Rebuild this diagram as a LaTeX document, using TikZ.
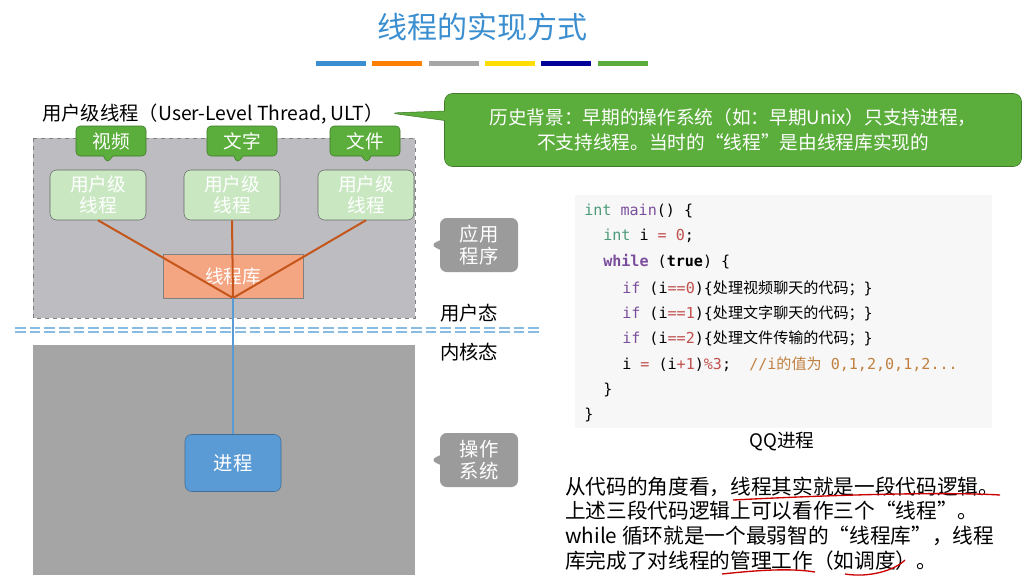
\documentclass[tikz,border=0pt]{standalone}
\usepackage{fontspec}
\setmainfont{Noto Sans CJK SC}
\newfontfamily\cjk{Noto Sans CJK SC}
\setmonofont{DejaVu Sans Mono}
\usepackage{xcolor}
\usetikzlibrary{shapes.callouts}
\definecolor{titleblue}{HTML}{3B8FD0}
\definecolor{bggray}{HTML}{BDBCC0}
\definecolor{osgray}{HTML}{9B9B9B}
\definecolor{callgreen}{HTML}{5BAE3C}
\definecolor{ultgreen}{HTML}{C9E8C2}
\definecolor{liborange}{HTML}{F4A582}
\definecolor{linkorange}{HTML}{C5561B}
\definecolor{procblue}{HTML}{5B9BD5}
\definecolor{kwpurple}{HTML}{7A4E9C}
\definecolor{kwgreen}{HTML}{4C9A78}
\definecolor{numred}{HTML}{C0504D}
\definecolor{cmtorange}{HTML}{C08040}
\tikzset{
  bubble/.style={rectangle callout,rounded corners=3pt,fill=callgreen,draw=callgreen!70!black,
    text=white,font=\fontsize{14}{16}\selectfont,minimum width=70*0.75pt,minimum height=30*0.75pt,inner sep=1pt},
  ultbox/.style={rounded corners=5pt,fill=ultgreen,draw=gray!80!black,text=white,align=center,
    font=\fontsize{14}{16}\selectfont,minimum width=96*0.75pt,minimum height=50*0.75pt,inner sep=1pt},
  graytag/.style={rectangle callout,rounded corners=5pt,fill=osgray,text=white,align=center,
    font=\fontsize{14.5}{17}\selectfont,minimum width=78*0.75pt,minimum height=54*0.75pt,inner sep=1pt},
  codeline/.style={anchor=west,font=\ttfamily\fontsize{11.3}{12}\selectfont,inner sep=0pt},
  plain/.style={anchor=west,font=\fontsize{14.5}{16}\selectfont,inner sep=0pt},
  para/.style={anchor=west,font=\fontsize{15.5}{17}\selectfont,inner sep=0pt}
}
\begin{document}
\begin{tikzpicture}[x=0.75pt,y=-0.75pt]
\useasboundingbox (0,0) rectangle (1024,579);
\fill[white] (0,0) rectangle (1024,579);
% title
\node[text=titleblue,font=\fontsize{22.5}{24}\selectfont] (title) at (482,27) {线程的实现方式};
\foreach \c/\x in {titleblue/316,orange/372,gray!70/429,yellow!80!orange/485,blue!60!black/541,callgreen/598}
\fill[\c] (\x,61) rectangle (\x+50,66);
% user and kernel areas
\draw[gray,dashed,fill=bggray] (33,138) rectangle (415,318);
\fill[osgray!90] (33,345) rectangle (415,575);
\draw[titleblue!60,line width=0.8pt,dash pattern=on 8pt off 3pt] (15,328) -- (540,328) (15,332) -- (540,332);
\node[plain] (user) at (440,313) {用户态};
\node[plain] (kernel) at (440,352) {内核态};
% ULT title and history callout
\node[plain] (ult) at (42,114) {用户级线程（User-Level Thread, ULT）};
\node[rectangle callout,rounded corners=6pt,fill=callgreen,draw=callgreen!70!black,text=white,
  align=center,font=\fontsize{14}{19}\selectfont,minimum width=577*0.75pt,minimum height=73*0.75pt,
  callout absolute pointer={(390,113)}] (hist) at (733,130)
  {历史背景：早期的操作系统（如：早期Unix）只支持进程，\\不支持线程。当时的“线程”是由线程库实现的};
% threads
\node[ultbox] (t1) at (98,195) {用户级\\线程};
\node[ultbox] (t2) at (232,195) {用户级\\线程};
\node[ultbox] (t3) at (366,195) {用户级\\线程};
\node[bubble,callout absolute pointer={(107,163)}] (b1) at (111,141) {视频};
\node[bubble,callout absolute pointer={(237,163)}] (b2) at (242,141) {文字};
\node[bubble,callout absolute pointer={(367,163)}] (b3) at (365,141) {文件};
\node[fill=liborange,draw=gray,minimum width=140*0.75pt,minimum height=44*0.75pt,text=white,
  font=\fontsize{14}{16}\selectfont] (lib) at (233,276) {线程库};
\coordinate (hub) at (233,298);
\foreach \t in {t1,t2,t3}
\draw[linkorange,line width=1.5pt] (\t.south) -- (hub);
\node[fill=procblue,draw=procblue!70!black,rounded corners=5pt,minimum width=96*0.75pt,
  minimum height=57*0.75pt,text=white,font=\fontsize{14.5}{16}\selectfont] (proc) at (233,463) {进程};
\draw[procblue,line width=1pt] (hub) -- (proc.north);
\node[graytag,callout absolute pointer={(430,245)}] (app) at (479,245) {应用\\程序};
\node[graytag,callout absolute pointer={(430,460)}] (os) at (479,460) {操作\\系统};
% code
\fill[gray!6] (575,195) rectangle (992,428);
\node[codeline] (c1) at (584,211) {\color{kwgreen}int \color{kwpurple}main\color{black}() \{};
\node[codeline] (c2) at (603,236) {\color{kwgreen}int \color{black}i \color{numred}= 0\color{black};};
\node[codeline] (c3) at (603,262) {\color{kwpurple}\textbf{while} \color{black}(\textbf{true}) \{};
\node[codeline] (c4) at (622,288) {\color{kwpurple}if \color{black}(i\color{numred}==0\color{black})\{{\cjk 处理视频聊天的代码；}\}};
\node[codeline] (c5) at (622,313) {\color{kwpurple}if \color{black}(i\color{numred}==1\color{black})\{{\cjk 处理文字聊天的代码；}\}};
\node[codeline] (c6) at (622,338) {\color{kwpurple}if \color{black}(i\color{numred}==2\color{black})\{{\cjk 处理文件传输的代码；}\}};
\node[codeline] (c7) at (622,364) {i \color{numred}= \color{black}(i\color{numred}+1\color{black})\color{numred}\%3\color{black};\ \ \color{cmtorange}//i{\cjk 的值为} 0,1,2,0,1,2...};
\node[codeline] (c8) at (603,390) {\}};
\node[codeline] (c9) at (584,415) {\}};
\node[font=\fontsize{14}{15}\selectfont] (qq) at (782,441) {QQ进程};
% explanation
\node[para] (p1) at (565,487) {从代码的角度看，线程其实就是一段代码逻辑。};
\node[para] (p2) at (565,511) {上述三段代码逻辑上可以看作三个“线程”。};
\node[para] (p3) at (565,536) {while 循环就是一个最弱智的“线程库”，线程};
\node[para] (p4) at (565,561) {库完成了对线程的管理工作（如调度）。};
\draw[red!80!black,line width=1pt] (733,500) .. controls (850,494) and (950,492) .. (1000,495);
\draw[red!80!black,line width=1pt] (722,574) .. controls (760,570) and (790,568) .. (815,572);
\draw[red!80!black,line width=1pt] (845,574) .. controls (870,578) and (895,570) .. (905,560);
\end{tikzpicture}
\end{document}
